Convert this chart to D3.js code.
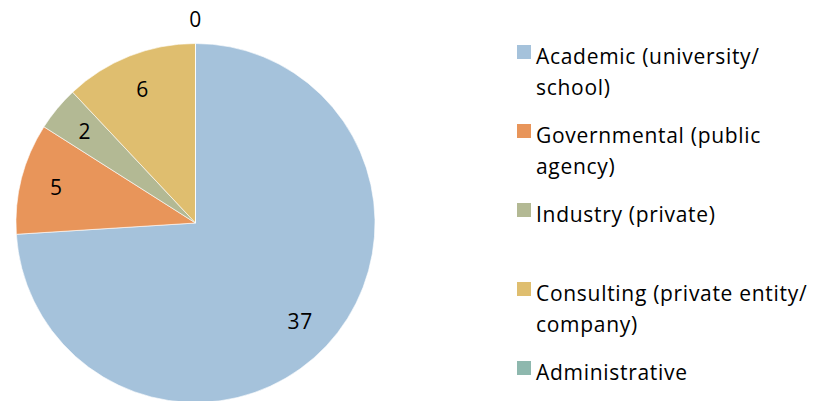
<!DOCTYPE html>
<html>
<head>
<meta charset="utf-8">
<script src="https://cdn.jsdelivr.net/npm/d3@7"></script>
<style>
  body { margin: 0; background: #fff; }
  text { font-family: "Open Sans", "DejaVu Sans", sans-serif; letter-spacing: 0.7px; }
</style>
</head>
<body>
<div id="chart"></div>
<script>
const categories = ["Academic (university/ school)", "Governmental (public agency)", "Industry (private)", "Consulting (private entity/ company)", "Administrative"]
const legendLines = [["Academic (university/", "school)"], ["Governmental (public", "agency)"], ["Industry (private)"], ["Consulting (private entity/", "company)"], ["Administrative"]]
const values = [37, 5, 2, 6, 0]
const colors = ["#A5C2DB", "#E8955A", "#B3B994", "#DFBE6F", "#8EB8AE"]

const width = 825
const height = 401
const cx = 195.5
const cy = 223
const radius = 179.5

const svg = d3.select("#chart")
  .append("svg")
  .attr("width", width)
  .attr("height", height)

const pie = d3.pie().sort(null).value(d => d)
const arcs = pie(values)

const arc = d3.arc().innerRadius(0).outerRadius(radius)
const labelArc = d3.arc().innerRadius(radius * 0.8).outerRadius(radius * 0.8)
const outerArc = d3.arc().innerRadius(radius + 24).outerRadius(radius + 24)

const g = svg.append("g").attr("transform", `translate(${cx},${cy})`)

g.selectAll("path")
  .data(arcs)
  .enter()
  .append("path")
  .attr("d", arc)
  .attr("fill", (d, i) => colors[i])
  .attr("stroke", "#fff")
  .attr("stroke-width", 0.6)

g.selectAll("text.lbl")
  .data(arcs)
  .enter()
  .append("text")
  .attr("class", "lbl")
  .attr("transform", d => {
    // zero-size slice gets its label outside the pie, like the original
    const p = d.value === 0 ? outerArc.centroid(d) : labelArc.centroid(d)
    return `translate(${p[0]},${p[1]})`
  })
  .attr("text-anchor", "middle")
  .attr("dy", "0.35em")
  .style("font-size", "21px")
  .style("fill", "#000")
  .text(d => d.value)

// legend
const legendY = d3.scaleBand().domain(d3.range(categories.length)).range([45, 440]).paddingInner(0)

const legend = svg.append("g")
  .selectAll("g")
  .data(categories)
  .enter()
  .append("g")
  .attr("transform", (d, i) => `translate(517,${legendY(i)})`)

legend.append("rect")
  .attr("width", 14)
  .attr("height", 14)
  .attr("fill", (d, i) => colors[i])

legend.append("text")
  .attr("x", 19)
  .attr("y", 18.5)
  .style("font-size", "21px")
  .style("fill", "#000")
  .selectAll("tspan")
  .data((d, i) => legendLines[i])
  .enter()
  .append("tspan")
  .attr("x", 19)
  .attr("dy", (d, j) => j === 0 ? 0 : 31.5)
  .text(d => d)
</script>
</body>
</html>
